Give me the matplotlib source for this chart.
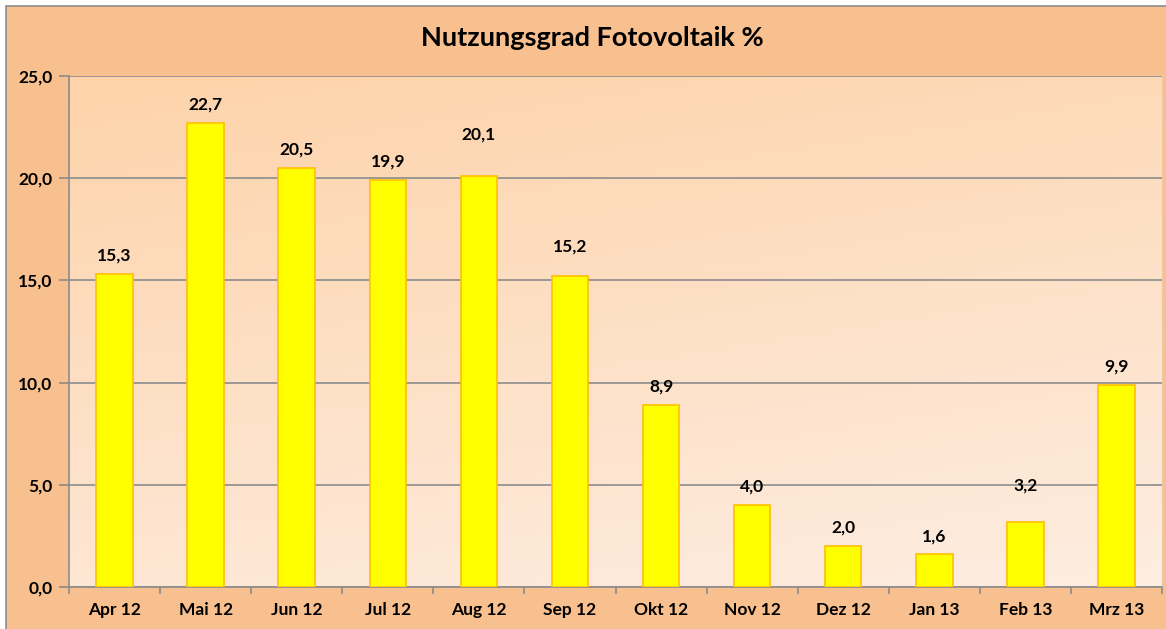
import matplotlib
matplotlib.use("Agg")
import matplotlib.pyplot as plt
import numpy as np
from matplotlib.patches import Rectangle
from matplotlib.colors import LinearSegmentedColormap

monate = ["Apr 12", "Mai 12", "Jun 12", "Jul 12", "Aug 12", "Sep 12",
          "Okt 12", "Nov 12", "Dez 12", "Jan 13", "Feb 13", "Mrz 13"]
nutzungsgrad = [15.3, 22.7, 20.5, 19.9, 20.1, 15.2, 8.9, 4.0, 2.0, 1.6, 3.2, 9.9]
y_ticks = [0, 5, 10, 15, 20, 25]

# Abstand der Beschriftung über dem Balken (Pixel), in Excel teils verschoben
label_pad = [19, 18, 18, 19, 42, 30, 19, 19, 19, 18, 36, 18]

plt.rcParams['font.family'] = ['Lato', 'DejaVu Sans']

fig = plt.figure(figsize=(11.66, 6.29), dpi=100)
fig.patch.set_facecolor("white")

# Diagrammfläche
fig.patches.append(Rectangle((6 / 1166, -0.01), 1.1, 1 - 6 / 629 + 0.01,
                             transform=fig.transFigure, facecolor="#F9C08F",
                             edgecolor="#8C8C8C", linewidth=1.2, zorder=-1))

ax = fig.add_axes([69 / 1166, 1 - 587 / 629, (1162 - 69) / 1166, (587 - 76) / 629])

# Verlauf im Hintergrund
cmap = LinearSegmentedColormap.from_list("bg", ["#FDD3AA", "#FEEDE1"])
gy, gx = np.mgrid[0:1:200j, 0:1:200j]
grad = 0.75 * gy + 0.25 * gx
ax.imshow(grad, cmap=cmap, extent=[0, 1, 0, 1], transform=ax.transAxes,
          aspect="auto", zorder=0, origin="upper")

x = np.arange(len(monate))
ax.bar(x, nutzungsgrad, width=0.4, color="#FFFF00", edgecolor="#FFC000",
       linewidth=1.2, zorder=3)

for xi, v, pad in zip(x, nutzungsgrad, label_pad):
    ax.annotate(f"{v:.1f}".replace(".", ","), (xi, v), xytext=(0, pad),
                textcoords="offset pixels", ha="center", va="center",
                fontsize=12.5, fontweight="bold", color="black", zorder=4)

ax.set_xlim(-0.5, len(monate) - 0.5)
ax.set_ylim(0, 25)
ax.set_yticks(y_ticks)
ax.set_yticklabels([f"{t:.1f}".replace(".", ",") for t in y_ticks],
                   fontsize=12.5, fontweight="bold")
ax.set_xticks(x)
ax.set_xticklabels(monate, fontsize=12.5, fontweight="bold")
ax.set_xticks(np.arange(-0.5, len(monate)), minor=True)
ax.tick_params(axis="x", which="major", length=0, pad=11)
ax.tick_params(axis="x", which="minor", length=5, color="#8C8C8C", width=1.2)
ax.tick_params(axis="y", length=7, color="#8C8C8C", width=1.2, pad=5)

ax.grid(axis="y", color="#8C8C8C", linewidth=1.2, zorder=1)
ax.set_axisbelow(True)
for s in ["top", "right"]:
    ax.spines[s].set_visible(False)
for s in ["left", "bottom"]:
    ax.spines[s].set_color("#8C8C8C")
    ax.spines[s].set_linewidth(1.2)
ax.spines["right"].set_visible(True)
ax.spines["right"].set_color("#F0C8A8")

fig.text(592 / 1166, 1 - 38 / 629, "Nutzungsgrad Fotovoltaik %",
         ha="center", va="center", fontsize=19.5, fontweight="bold")

fig.savefig("out.png", dpi=100)
